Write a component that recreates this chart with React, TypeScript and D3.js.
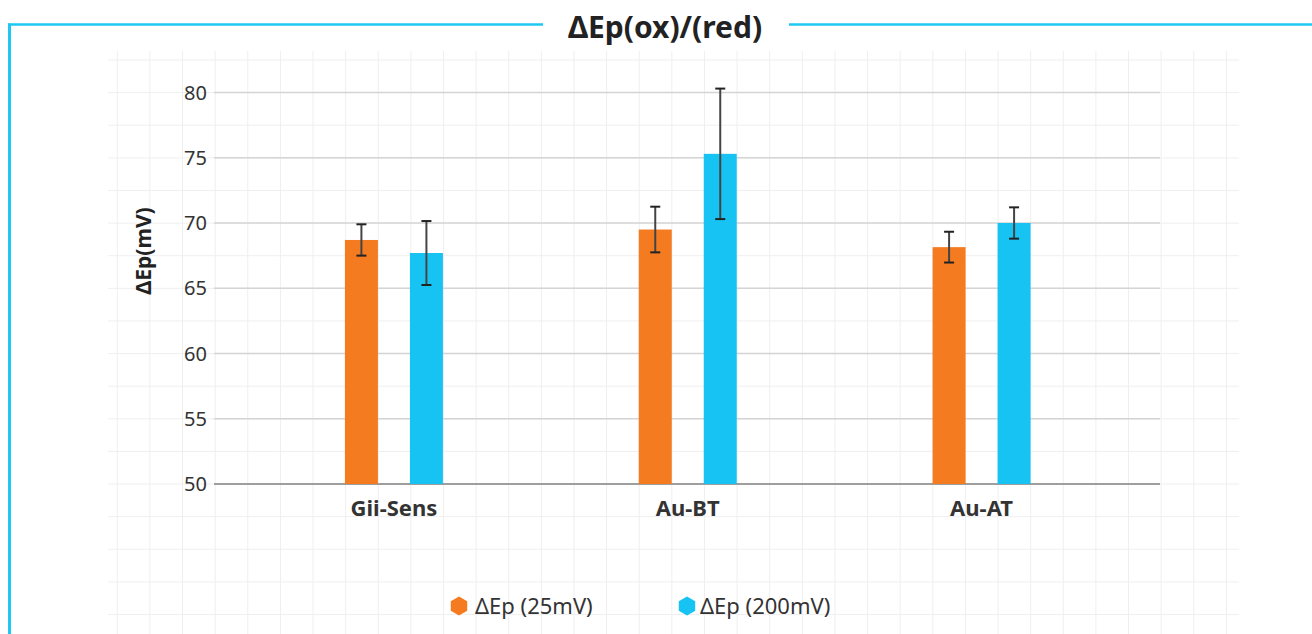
import React from "react";
import * as d3 from "d3";

const categories = ["Gii-Sens", "Au-BT", "Au-AT"];
const seriesNames = ["ΔEp (25mV)", "ΔEp (200mV)"];
const seriesColors = ["#F47B20", "#16C3F2"];
const values25 = [68.7, 69.5, 68.15];
const errors25 = [1.2, 1.75, 1.18];
const values200 = [67.7, 75.3, 70.0];
const errors200 = [2.45, 5.0, 1.2];
const yTicks = [50, 55, 60, 65, 70, 75, 80];
const title = "ΔEp(ox)/(red)";
const yTitle = "ΔEp(mV)";

const W = 1312;
const H = 634;
const FONT = "'Noto Sans', sans-serif";

export default function App() {
  const y = d3.scaleLinear().domain([50, 80]).range([484, 92.5]);
  const x = d3.scaleBand<string>().domain(categories).range([247, 1128.5]);
  const barW = 33;
  const offset = 32.5;

  const series = [
    { name: seriesNames[0], color: seriesColors[0], vals: values25, errs: errors25, dx: -offset },
    { name: seriesNames[1], color: seriesColors[1], vals: values200, errs: errors200, dx: offset },
  ];

  const gridStep = 32.62;
  const vLines = d3.range(0, 35).map((k) => 117.3 + gridStep * k);
  const hLines = d3.range(0, 18).map((k) => 60 + gridStep * k);

  const hexPath = (cx: number, cy: number, r: number) => {
    const pts = d3.range(6).map((i) => {
      const a = (Math.PI / 3) * i - Math.PI / 2;
      return [cx + r * Math.cos(a), cy + r * Math.sin(a)];
    });
    return "M" + pts.map((p) => p.join(",")).join("L") + "Z";
  };

  const legendItems = [
    { name: seriesNames[0], color: seriesColors[0], hx: 459, tx: 475 },
    { name: seriesNames[1], color: seriesColors[1], hx: 687, tx: 700 },
  ];

  return (
    <svg
      width={W}
      height={H}
      style={{ position: "absolute", left: 0, top: 0, background: "#fff", fontFamily: FONT }}
    >
      {/* background grid */}
      <g stroke="#efefef" strokeWidth={1}>
        {vLines.map((vx, i) => (
          <line key={"v" + i} x1={vx} x2={vx} y1={51} y2={H} />
        ))}
        {hLines.map((hy, i) => (
          <line key={"h" + i} x1={108} x2={1239} y1={hy} y2={hy} />
        ))}
      </g>

      {/* frame */}
      <line x1={8} x2={543} y1={24.5} y2={24.5} stroke="#1EC8F0" strokeWidth={2.5} />
      <line x1={789} x2={W} y1={24.5} y2={24.5} stroke="#1EC8F0" strokeWidth={2.5} />
      <line x1={9.5} x2={9.5} y1={23.5} y2={H} stroke="#1EC8F0" strokeWidth={3} />

      <text x={665} y={38} textAnchor="middle" fontSize={30} fontWeight={700} fill="#222">
        {title}
      </text>

      {/* y gridlines */}
      {yTicks.map((t) => (
        <g key={t}>
          <line
            x1={214}
            x2={1160}
            y1={y(t)}
            y2={y(t)}
            stroke={t === 50 ? "#808080" : "#d4d4d4"}
            strokeWidth={t === 50 ? 1.6 : 1.4}
          />
          <text x={207} y={y(t)} dy="0.36em" textAnchor="end" fontSize={20} fill="#333">
            {t}
          </text>
        </g>
      ))}

      <text
        transform={`translate(151,${251}) rotate(-90)`}
        textAnchor="middle"
        fontSize={21}
        fontWeight={700}
        fill="#222"
      >
        {yTitle}
      </text>

      {/* bars */}
      {series.map((s) =>
        categories.map((c, i) => {
          const cx = (x(c) as number) + x.bandwidth() / 2 + s.dx;
          const v = s.vals[i];
          return (
            <rect
              key={s.name + c}
              x={cx - barW / 2}
              y={y(v)}
              width={barW}
              height={y(50) - y(v)}
              fill={s.color}
            />
          );
        })
      )}

      {/* error bars */}
      {series.map((s) =>
        categories.map((c, i) => {
          const cx = (x(c) as number) + x.bandwidth() / 2 + s.dx;
          const v = s.vals[i];
          const e = s.errs[i];
          return (
            <g key={"e" + s.name + c}>
              <line x1={cx} x2={cx} y1={y(v + e)} y2={y(v - e)} stroke="#444" strokeWidth={2} />
              <line x1={cx - 5} x2={cx + 5} y1={y(v + e)} y2={y(v + e)} stroke="#222" strokeWidth={2} />
              <line x1={cx - 5} x2={cx + 5} y1={y(v - e)} y2={y(v - e)} stroke="#222" strokeWidth={2} />
            </g>
          );
        })
      )}

      {/* category labels */}
      {categories.map((c) => (
        <text
          key={"l" + c}
          x={(x(c) as number) + x.bandwidth() / 2}
          y={516}
          textAnchor="middle"
          fontSize={22}
          fontWeight={700}
          fill="#333"
        >
          {c}
        </text>
      ))}

      {/* legend */}
      {legendItems.map((l) => (
        <g key={l.name}>
          <path d={hexPath(l.hx, 606, 9.5)} fill={l.color} />
          <text x={l.tx} y={606} dy="0.36em" fontSize={22} fill="#333">
            {l.name}
          </text>
        </g>
      ))}
    </svg>
  );
}
